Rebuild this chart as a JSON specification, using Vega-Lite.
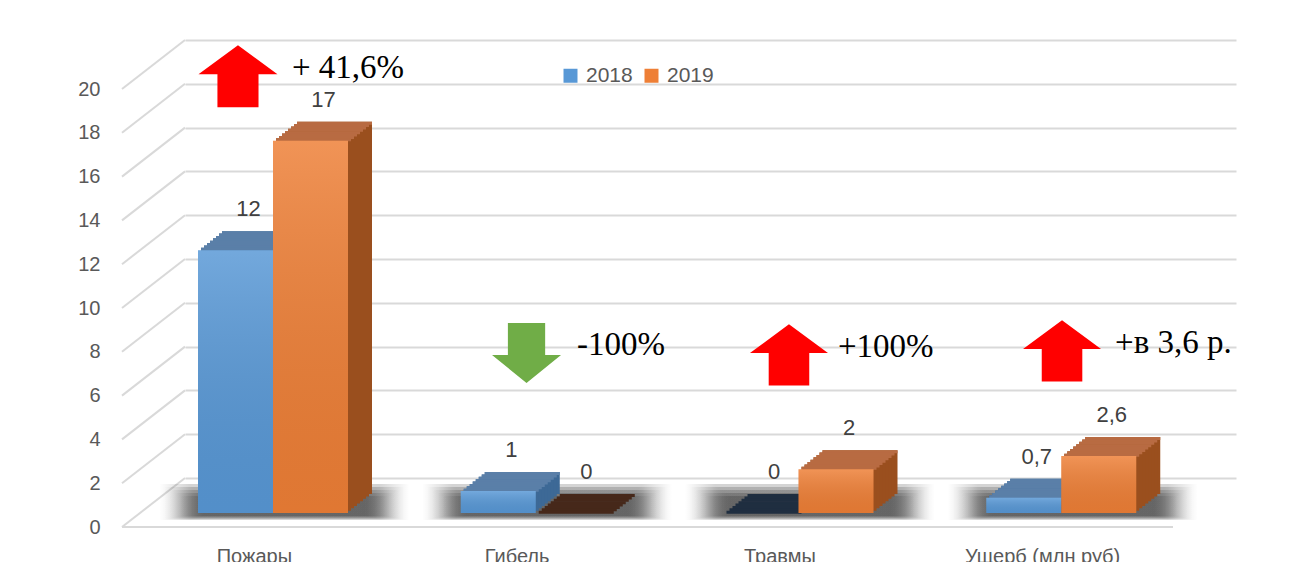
{
"$schema": "https://vega.github.io/schema/vega-lite/v6.json",
"width": 1051, "height": 438,
"autosize": {"type": "none"},
"padding": {"left": 185, "top": 40, "right": 59, "bottom": 84},
"background": "white",
"datasets": {
 "d": [
  {"cat": "Пожары", "year": "2018", "v": 12},
  {"cat": "Пожары", "year": "2019", "v": 17},
  {"cat": "Гибель", "year": "2018", "v": 1},
  {"cat": "Гибель", "year": "2019", "v": 0},
  {"cat": "Травмы", "year": "2018", "v": 0},
  {"cat": "Травмы", "year": "2019", "v": 2},
  {"cat": "Ущерб (млн руб)", "year": "2018", "v": 0.7},
  {"cat": "Ущерб (млн руб)", "year": "2019", "v": 2.6}
 ],
 "ann": [
  {"cat": "Пожары", "txt": "+ 41,6%", "lvl": 18.35},
  {"cat": "Гибель", "txt": "-100%", "lvl": 5.71},
  {"cat": "Травмы", "txt": "+100%", "lvl": 5.62},
  {"cat": "Ущерб (млн руб)", "txt": "+в 3,6 р.", "lvl": 5.8}
 ],
 "ticks": [{"t": 0}, {"t": 2}, {"t": 4}, {"t": 6}, {"t": 8}, {"t": 10}, {"t": 12}, {"t": 14}, {"t": 16}, {"t": 18}, {"t": 20}]
},
"data": {"name": "d"},
"encoding": {
 "x": {"field": "cat", "type": "nominal", "sort": null,
  "scale": {"domain": ["Пожары", "Гибель", "Травмы", "Ущерб (млн руб)"], "paddingInner": 0, "paddingOuter": 0},
  "axis": {"title": null, "ticks": false, "domain": false, "labelPadding": 68, "labelOffset": -62, "labelAngle": 0, "labelFontSize": 20, "labelColor": "#595959", "labelFont": "Liberation Sans", "grid": false}},
 "y": {"field": "v", "type": "quantitative",
  "scale": {"domain": [0, 20], "nice": false},
  "axis": {"title": null, "ticks": false, "domain": false, "labelPadding": 85, "labelOffset": 49, "labelFontSize": 20, "labelColor": "#595959", "labelFont": "Liberation Sans", "grid": true, "gridColor": "#d9d9d9", "gridWidth": 2, "values": [0, 2, 4, 6, 8, 10, 12, 14, 16, 18, 20]}}
},
"layer": [
 {"data": {"name": "ticks"}, "mark": {"type": "rule", "yOffset": 49, "color": "#d9d9d9", "strokeWidth": 2},
  "encoding": {"x": {"value": -63}, "x2": {"value": 0}, "y": {"field": "t", "type": "quantitative"}, "y2": {"field": "t"}}},
 {"data": {"values": [{"t": 0}]}, "mark": {"type": "rule", "yOffset": 49, "y2Offset": 49, "color": "#d9d9d9", "strokeWidth": 2},
  "encoding": {"x": {"value": -63}, "x2": {"value": 988}, "y": {"field": "t", "type": "quantitative"}, "y2": {"field": "t"}}},

 {"transform": [{"filter": "datum.year == '2018'"}],
  "mark": {"type": "bar", "width": 250, "xOffset": -32, "yOffset": 42, "y2Offset": 6,
   "fill": {"gradient": "linear", "x1": 0, "y1": 0, "x2": 1, "y2": 0, "stops": [{"offset": 0, "color": "rgba(0,0,0,0)"}, {"offset": 0.12, "color": "rgba(0,0,0,0.17)"}, {"offset": 0.88, "color": "rgba(0,0,0,0.17)"}, {"offset": 1, "color": "rgba(0,0,0,0)"}]}},
  "encoding": {"y": {"datum": 0}, "y2": {"datum": 0}}},
 {"transform": [{"filter": "datum.year == '2018'"}],
  "mark": {"type": "bar", "width": 240, "xOffset": -32, "yOffset": 41, "y2Offset": 9,
   "fill": {"gradient": "linear", "x1": 0, "y1": 0, "x2": 1, "y2": 0, "stops": [{"offset": 0, "color": "rgba(0,0,0,0)"}, {"offset": 0.12, "color": "rgba(0,0,0,0.17)"}, {"offset": 0.88, "color": "rgba(0,0,0,0.17)"}, {"offset": 1, "color": "rgba(0,0,0,0)"}]}},
  "encoding": {"y": {"datum": 0}, "y2": {"datum": 0}}},
 {"transform": [{"filter": "datum.year == '2018'"}],
  "mark": {"type": "bar", "width": 230, "xOffset": -32, "yOffset": 40, "y2Offset": 12,
   "fill": {"gradient": "linear", "x1": 0, "y1": 0, "x2": 1, "y2": 0, "stops": [{"offset": 0, "color": "rgba(0,0,0,0)"}, {"offset": 0.12, "color": "rgba(0,0,0,0.17)"}, {"offset": 0.88, "color": "rgba(0,0,0,0.17)"}, {"offset": 1, "color": "rgba(0,0,0,0)"}]}},
  "encoding": {"y": {"datum": 0}, "y2": {"datum": 0}}},
 {"transform": [{"filter": "datum.year == '2018'"}],
  "mark": {"type": "bar", "width": 220, "xOffset": -32, "yOffset": 39, "y2Offset": 15,
   "fill": {"gradient": "linear", "x1": 0, "y1": 0, "x2": 1, "y2": 0, "stops": [{"offset": 0, "color": "rgba(0,0,0,0)"}, {"offset": 0.12, "color": "rgba(0,0,0,0.17)"}, {"offset": 0.88, "color": "rgba(0,0,0,0.17)"}, {"offset": 1, "color": "rgba(0,0,0,0)"}]}},
  "encoding": {"y": {"datum": 0}, "y2": {"datum": 0}}},
 {"transform": [{"filter": "datum.year == '2018'"}],
  "mark": {"type": "bar", "width": 210, "xOffset": -32, "yOffset": 38, "y2Offset": 18,
   "fill": {"gradient": "linear", "x1": 0, "y1": 0, "x2": 1, "y2": 0, "stops": [{"offset": 0, "color": "rgba(0,0,0,0)"}, {"offset": 0.12, "color": "rgba(0,0,0,0.17)"}, {"offset": 0.88, "color": "rgba(0,0,0,0.17)"}, {"offset": 1, "color": "rgba(0,0,0,0)"}]}},
  "encoding": {"y": {"datum": 0}, "y2": {"datum": 0}}},

 {"mark": {"type": "bar", "yOffset": 16, "y2Offset": 16},
  "encoding": {"xOffset": {"field": "year", "type": "nominal", "scale": {"range": [37, 187], "paddingInner": 0, "paddingOuter": 0}},
   "color": {"condition": {"test": "datum.year == '2018'", "value": "#3d6996"}, "value": "#9a4f1e"}}},
 {"mark": {"type": "bar", "yOffset": 18.375, "y2Offset": 18.375},
  "encoding": {"xOffset": {"field": "year", "type": "nominal", "scale": {"range": [34, 184], "paddingInner": 0, "paddingOuter": 0}},
   "color": {"condition": {"test": "datum.year == '2018'", "value": "#3d6996"}, "value": "#9a4f1e"}}},
 {"mark": {"type": "bar", "yOffset": 20.75, "y2Offset": 20.75},
  "encoding": {"xOffset": {"field": "year", "type": "nominal", "scale": {"range": [31, 181], "paddingInner": 0, "paddingOuter": 0}},
   "color": {"condition": {"test": "datum.year == '2018'", "value": "#3d6996"}, "value": "#9a4f1e"}}},
 {"mark": {"type": "bar", "yOffset": 23.125, "y2Offset": 23.125},
  "encoding": {"xOffset": {"field": "year", "type": "nominal", "scale": {"range": [28, 178], "paddingInner": 0, "paddingOuter": 0}},
   "color": {"condition": {"test": "datum.year == '2018'", "value": "#3d6996"}, "value": "#9a4f1e"}}},
 {"mark": {"type": "bar", "yOffset": 25.5, "y2Offset": 25.5},
  "encoding": {"xOffset": {"field": "year", "type": "nominal", "scale": {"range": [25, 175], "paddingInner": 0, "paddingOuter": 0}},
   "color": {"condition": {"test": "datum.year == '2018'", "value": "#3d6996"}, "value": "#9a4f1e"}}},
 {"mark": {"type": "bar", "yOffset": 27.875, "y2Offset": 27.875},
  "encoding": {"xOffset": {"field": "year", "type": "nominal", "scale": {"range": [22, 172], "paddingInner": 0, "paddingOuter": 0}},
   "color": {"condition": {"test": "datum.year == '2018'", "value": "#3d6996"}, "value": "#9a4f1e"}}},
 {"mark": {"type": "bar", "yOffset": 30.25, "y2Offset": 30.25},
  "encoding": {"xOffset": {"field": "year", "type": "nominal", "scale": {"range": [19, 169], "paddingInner": 0, "paddingOuter": 0}},
   "color": {"condition": {"test": "datum.year == '2018'", "value": "#3d6996"}, "value": "#9a4f1e"}}},
 {"mark": {"type": "bar", "yOffset": 32.625, "y2Offset": 32.625},
  "encoding": {"xOffset": {"field": "year", "type": "nominal", "scale": {"range": [16, 166], "paddingInner": 0, "paddingOuter": 0}},
   "color": {"condition": {"test": "datum.year == '2018'", "value": "#3d6996"}, "value": "#9a4f1e"}}},

 {"mark": {"type": "bar", "yOffset": 16, "y2Offset": 19},
  "encoding": {"xOffset": {"field": "year", "type": "nominal", "scale": {"range": [37, 187], "paddingInner": 0, "paddingOuter": 0}}, "y2": {"field": "v"},
   "color": {"condition": [{"test": "datum.v == 0 && datum.year == '2018'", "value": "#1f2e40"}, {"test": "datum.v == 0", "value": "#46281a"}, {"test": "datum.year == '2018'", "value": "#5a7fa8"}], "value": "#b86b42"}}},
 {"mark": {"type": "bar", "yOffset": 18.375, "y2Offset": 21.375},
  "encoding": {"xOffset": {"field": "year", "type": "nominal", "scale": {"range": [34, 184], "paddingInner": 0, "paddingOuter": 0}}, "y2": {"field": "v"},
   "color": {"condition": [{"test": "datum.v == 0 && datum.year == '2018'", "value": "#1f2e40"}, {"test": "datum.v == 0", "value": "#46281a"}, {"test": "datum.year == '2018'", "value": "#5a7fa8"}], "value": "#b86b42"}}},
 {"mark": {"type": "bar", "yOffset": 20.75, "y2Offset": 23.75},
  "encoding": {"xOffset": {"field": "year", "type": "nominal", "scale": {"range": [31, 181], "paddingInner": 0, "paddingOuter": 0}}, "y2": {"field": "v"},
   "color": {"condition": [{"test": "datum.v == 0 && datum.year == '2018'", "value": "#1f2e40"}, {"test": "datum.v == 0", "value": "#46281a"}, {"test": "datum.year == '2018'", "value": "#5a7fa8"}], "value": "#b86b42"}}},
 {"mark": {"type": "bar", "yOffset": 23.125, "y2Offset": 26.125},
  "encoding": {"xOffset": {"field": "year", "type": "nominal", "scale": {"range": [28, 178], "paddingInner": 0, "paddingOuter": 0}}, "y2": {"field": "v"},
   "color": {"condition": [{"test": "datum.v == 0 && datum.year == '2018'", "value": "#1f2e40"}, {"test": "datum.v == 0", "value": "#46281a"}, {"test": "datum.year == '2018'", "value": "#5a7fa8"}], "value": "#b86b42"}}},
 {"mark": {"type": "bar", "yOffset": 25.5, "y2Offset": 28.5},
  "encoding": {"xOffset": {"field": "year", "type": "nominal", "scale": {"range": [25, 175], "paddingInner": 0, "paddingOuter": 0}}, "y2": {"field": "v"},
   "color": {"condition": [{"test": "datum.v == 0 && datum.year == '2018'", "value": "#1f2e40"}, {"test": "datum.v == 0", "value": "#46281a"}, {"test": "datum.year == '2018'", "value": "#5a7fa8"}], "value": "#b86b42"}}},
 {"mark": {"type": "bar", "yOffset": 27.875, "y2Offset": 30.875},
  "encoding": {"xOffset": {"field": "year", "type": "nominal", "scale": {"range": [22, 172], "paddingInner": 0, "paddingOuter": 0}}, "y2": {"field": "v"},
   "color": {"condition": [{"test": "datum.v == 0 && datum.year == '2018'", "value": "#1f2e40"}, {"test": "datum.v == 0", "value": "#46281a"}, {"test": "datum.year == '2018'", "value": "#5a7fa8"}], "value": "#b86b42"}}},
 {"mark": {"type": "bar", "yOffset": 30.25, "y2Offset": 33.25},
  "encoding": {"xOffset": {"field": "year", "type": "nominal", "scale": {"range": [19, 169], "paddingInner": 0, "paddingOuter": 0}}, "y2": {"field": "v"},
   "color": {"condition": [{"test": "datum.v == 0 && datum.year == '2018'", "value": "#1f2e40"}, {"test": "datum.v == 0", "value": "#46281a"}, {"test": "datum.year == '2018'", "value": "#5a7fa8"}], "value": "#b86b42"}}},
 {"mark": {"type": "bar", "yOffset": 32.625, "y2Offset": 35.625},
  "encoding": {"xOffset": {"field": "year", "type": "nominal", "scale": {"range": [16, 166], "paddingInner": 0, "paddingOuter": 0}}, "y2": {"field": "v"},
   "color": {"condition": [{"test": "datum.v == 0 && datum.year == '2018'", "value": "#1f2e40"}, {"test": "datum.v == 0", "value": "#46281a"}, {"test": "datum.year == '2018'", "value": "#5a7fa8"}], "value": "#b86b42"}}},

 {"mark": {"type": "bar", "yOffset": 35, "y2Offset": 35},
  "encoding": {"xOffset": {"field": "year", "type": "nominal", "scale": {"range": [13, 163], "paddingInner": 0, "paddingOuter": 0}},
   "color": {"field": "year", "type": "nominal", "scale": {"domain": ["2018", "2019"], "range": ["#5898d6", "#ee7f36"]},
    "legend": {"title": null, "orient": "none", "legendX": 375, "legendY": 25, "direction": "horizontal", "symbolType": "square", "symbolSize": 196, "symbolStrokeWidth": 0, "labelFontSize": 21, "labelColor": "#595959", "labelFont": "Liberation Sans", "columnPadding": 8, "labelOffset": 5, "padding": 0}}}},
 {"mark": {"type": "bar", "yOffset": 35, "y2Offset": 35,
   "fill": {"gradient": "linear", "x1": 0, "y1": 0, "x2": 0, "y2": 1, "stops": [{"offset": 0, "color": "rgba(255,255,255,0.16)"}, {"offset": 1, "color": "rgba(0,0,0,0.06)"}]}},
  "encoding": {"xOffset": {"field": "year", "type": "nominal", "scale": {"range": [13, 163], "paddingInner": 0, "paddingOuter": 0}}}},

 {"mark": {"type": "text", "dx": 13, "yOffset": -6, "baseline": "middle", "fontSize": 22, "font": "Liberation Sans", "color": "#404040"},
  "encoding": {"xOffset": {"field": "year", "type": "nominal", "scale": {"type": "point", "range": [50.5, 125.5], "padding": 0}},
   "text": {"field": "v", "type": "quantitative", "format": "~g"}}},

 {"data": {"name": "ann"}, "transform": [{"filter": "datum.cat == 'Пожары'"}],
  "mark": {"type": "point", "shape": "M0,-0.785L1,-0.05L0.52,-0.05L0.52,0.785L-0.52,0.785L-0.52,-0.05L-1,-0.05Z", "size": 6241, "filled": true, "color": "#ff0000", "opacity": 1, "strokeWidth": 0, "xOffset": -78.4},
  "encoding": {"y": {"field": "lvl", "type": "quantitative"}}},
 {"data": {"name": "ann"}, "transform": [{"filter": "datum.cat == 'Гибель'"}],
  "mark": {"type": "point", "shape": "M-0.54,-0.87L0.54,-0.87L0.54,0.06L1,0.06L0,0.87L-1,0.06L-0.54,0.06Z", "size": 4761, "filled": true, "color": "#70ad47", "opacity": 1, "strokeWidth": 0, "xOffset": -52.6},
  "encoding": {"y": {"field": "lvl", "type": "quantitative"}}},
 {"data": {"name": "ann"}, "transform": [{"filter": "datum.cat == 'Травмы'"}],
  "mark": {"type": "point", "shape": "M0,-0.785L1,-0.05L0.52,-0.05L0.52,0.785L-0.52,0.785L-0.52,-0.05L-1,-0.05Z", "size": 6084, "filled": true, "color": "#ff0000", "opacity": 1, "strokeWidth": 0, "xOffset": -52.9},
  "encoding": {"y": {"field": "lvl", "type": "quantitative"}}},
 {"data": {"name": "ann"}, "transform": [{"filter": "datum.cat == 'Ущерб (млн руб)'"}],
  "mark": {"type": "point", "shape": "M0,-0.785L1,-0.05L0.52,-0.05L0.52,0.785L-0.52,0.785L-0.52,-0.05L-1,-0.05Z", "size": 6084, "filled": true, "color": "#ff0000", "opacity": 1, "strokeWidth": 0, "xOffset": -42.6},
  "encoding": {"y": {"field": "lvl", "type": "quantitative"}}},

 {"data": {"name": "ann"}, "transform": [{"filter": "datum.cat == 'Пожары'"}],
  "mark": {"type": "text", "align": "left", "baseline": "alphabetic", "font": "Liberation Serif", "fontSize": 33, "color": "#000000", "xOffset": -24.4, "yOffset": 2},
  "encoding": {"y": {"field": "lvl", "type": "quantitative"}, "text": {"field": "txt"}}},
 {"data": {"name": "ann"}, "transform": [{"filter": "datum.cat == 'Гибель'"}],
  "mark": {"type": "text", "align": "left", "baseline": "alphabetic", "font": "Liberation Serif", "fontSize": 33, "color": "#000000", "xOffset": -2.1, "yOffset": 2},
  "encoding": {"y": {"field": "lvl", "type": "quantitative"}, "text": {"field": "txt"}}},
 {"data": {"name": "ann"}, "transform": [{"filter": "datum.cat == 'Травмы'"}],
  "mark": {"type": "text", "align": "left", "baseline": "alphabetic", "font": "Liberation Serif", "fontSize": 33, "color": "#000000", "xOffset": -3.9, "yOffset": 2},
  "encoding": {"y": {"field": "lvl", "type": "quantitative"}, "text": {"field": "txt"}}},
 {"data": {"name": "ann"}, "transform": [{"filter": "datum.cat == 'Ущерб (млн руб)'"}],
  "mark": {"type": "text", "align": "left", "baseline": "alphabetic", "font": "Liberation Serif", "fontSize": 33, "color": "#000000", "xOffset": 10.4, "yOffset": 2},
  "encoding": {"y": {"field": "lvl", "type": "quantitative"}, "text": {"field": "txt"}}}
],
"resolve": {"scale": {"xOffset": "independent"}},
"config": {
 "view": {"stroke": null},
 "font": "Liberation Sans",
 "locale": {"number": {"decimal": ",", "thousands": " ", "grouping": [3], "currency": ["", " ₽"]}}
}
}
